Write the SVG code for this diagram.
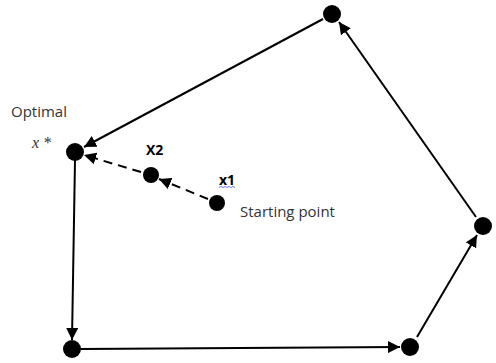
<svg xmlns="http://www.w3.org/2000/svg" width="496" height="363" viewBox="0 0 496 363">
<defs>
<style>
.node{fill:#000}
.edge{stroke:#000;stroke-width:2;fill:none}
.dash{stroke-dasharray:9,6}
.lbl{font-family:"Open Sans","Liberation Sans",sans-serif;font-size:15px;fill:#333}
.b{font-weight:bold;fill:#000;font-size:14px}
</style>
<marker id="ah" viewBox="0 0 10 10" refX="10" refY="5" markerWidth="6" markerHeight="6" orient="auto" markerUnits="strokeWidth">
<path d="M0,0 L10,5 L0,10 z" fill="#000"/>
</marker>
</defs>
<g id="connectors">
<line class="edge" x1="323" y1="19" x2="84" y2="147" marker-end="url(#ah)"/>
<line class="edge" x1="75" y1="160" x2="72" y2="340" marker-end="url(#ah)"/>
<line class="edge" x1="81" y1="349" x2="400" y2="347" marker-end="url(#ah)"/>
<line class="edge" x1="417" y1="337" x2="477" y2="235" marker-end="url(#ah)"/>
<line class="edge" x1="476" y1="217" x2="339" y2="22" marker-end="url(#ah)"/>
<line class="edge dash" x1="208" y1="199" x2="159" y2="179" marker-end="url(#ah)"/>
<line class="edge dash" x1="141" y1="172" x2="84" y2="155" marker-end="url(#ah)"/>
</g>
<g id="n-top"><circle class="node" cx="332" cy="14" r="9"/></g>
<g id="n-optimal"><circle class="node" cx="75" cy="152" r="9"/>
<text class="lbl" x="11" y="117">Optimal</text>
<text x="32" y="148" font-family="'Liberation Serif',serif" font-style="italic" font-size="16" fill="#333">x *</text></g>
<g id="n-x2"><circle class="node" cx="151" cy="175" r="8"/><text class="lbl b" x="146" y="155">X2</text></g>
<g id="n-x1"><circle class="node" cx="217" cy="203" r="8"/><text class="lbl b" x="219" y="185">x1</text>
<path d="M219,187.5 l2,-1 l2,1 l2,-1 l2,1 l2,-1 l2,1 l2,-1 l2,1" stroke="#4a5ae0" stroke-width="0.8" fill="none"/>
<text class="lbl" x="240" y="217" fill="#000">Starting point</text></g>
<g id="n-bl"><circle class="node" cx="72" cy="349" r="9"/></g>
<g id="n-br"><circle class="node" cx="410" cy="347" r="9"/></g>
<g id="n-right"><circle class="node" cx="483" cy="226" r="9"/></g>
</svg>
